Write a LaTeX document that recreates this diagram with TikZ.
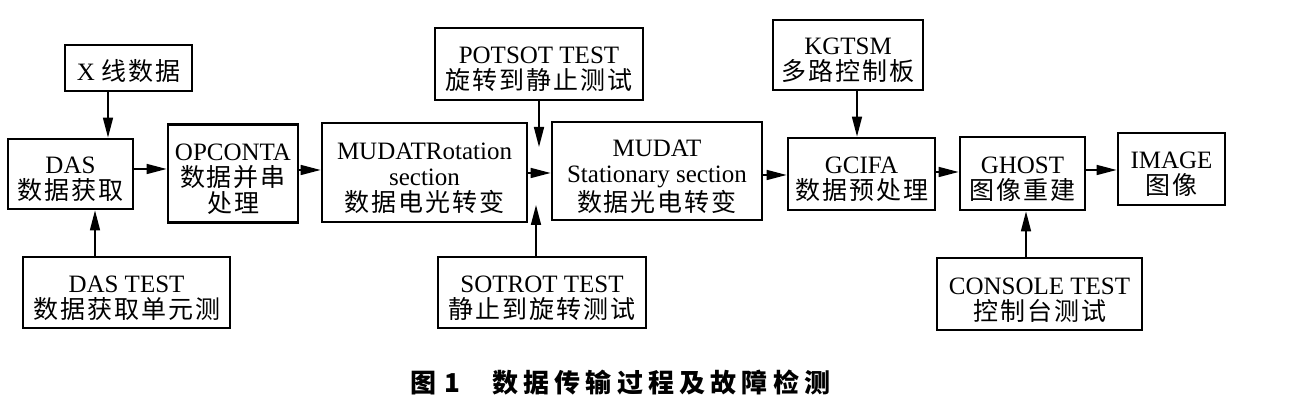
\documentclass[tikz,border=0pt]{standalone}
\usepackage{fontspec}
\setmainfont{Liberation Serif}
\newfontfamily\cjk{Noto Sans CJK SC}[LetterSpace=8]
\newfontfamily\cjkcap{Noto Sans CJK SC}
\usetikzlibrary{arrows.meta}
\newcommand\tstrut{\rule{0pt}{14pt}}
\begin{document}
\begin{tikzpicture}[x=0.5pt,y=-0.5pt,
  bx/.style={draw,line width=1.4pt,inner sep=0pt,align=center,
    font=\fontsize{12.5pt}{13pt}\selectfont},
  arr/.style={line width=0.8pt,-{Triangle[length=10pt,width=5pt]}},
  captext/.style={inner sep=0pt,anchor=west,font=\cjkcap\bfseries\fontsize{13pt}{13pt}\selectfont}]
\useasboundingbox (0,0) rectangle (1296,415);
% boxes
\node[bx,minimum width=63.5pt,minimum height=23pt] (xray) at (128.5,68) {\tstrut X {\cjk 线数据}};
\node[bx,minimum width=62.5pt,minimum height=35pt] (das) at (70.5,174) {\tstrut DAS\\{\cjk 数据获取}};
\node[bx,minimum width=65pt,minimum height=49pt] (opc) at (233,173.5) {\tstrut OPCONTA\\{\cjk 数据并串}\\{\cjk 处理}};
\node[bx,minimum width=102.5pt,minimum height=49.5pt] (mrot) at (424.5,172.5) {\tstrut MUDATRotation\\section\\{\cjk 数据电光转变}};
\node[bx,minimum width=104pt,minimum height=36pt] (potsot) at (539,64) {\tstrut POTSOT TEST\\{\cjk 旋转到静止测试}};
\node[bx,minimum width=105pt,minimum height=49pt] (mstat) at (657,171) {\tstrut MUDAT\\Stationary section\\{\cjk 数据光电转变}};
\node[bx,minimum width=75pt,minimum height=35pt] (kgtsm) at (848,55) {\tstrut KGTSM\\{\cjk 多路控制板}};
\node[bx,minimum width=73.5pt,minimum height=36pt] (gcifa) at (861.5,174) {\tstrut GCIFA\\{\cjk 数据预处理}};
\node[bx,minimum width=62.5pt,minimum height=36.5pt] (ghost) at (1022.5,173.5) {\tstrut GHOST\\{\cjk 图像重建}};
\node[bx,minimum width=53.5pt,minimum height=36pt] (image) at (1171.5,169) {\tstrut IMAGE\\{\cjk 图像}};
\node[bx,minimum width=103.5pt,minimum height=35.5pt] (dastest) at (126.5,292.5) {\tstrut DAS TEST\\{\cjk 数据获取单元测}};
\node[bx,minimum width=104pt,minimum height=35.5pt] (sotrot) at (542,292.5) {\tstrut SOTROT TEST\\{\cjk 静止到旋转测试}};
\node[bx,minimum width=102.5pt,minimum height=36pt] (console) at (1039.5,294) {\tstrut CONSOLE TEST\\{\cjk 控制台测试}};
% helper coordinates
\coordinate (vx1) at (108,0);
\coordinate (vx2) at (95,0);
\coordinate (vx3) at (857,0);
\coordinate (vx4) at (1026,0);
\coordinate (pend) at (539,147);
\coordinate (send) at (536,205);
\coordinate (h1) at (0,169);
\coordinate (h2) at (0,170);
\coordinate (h3) at (0,173);
\coordinate (h4) at (0,175);
\coordinate (h5) at (0,172);
\coordinate (h6) at (0,170);
% connectors
\draw[arr] (xray.south -| vx1) -- (das.north -| vx1);
\draw[arr] (dastest.north -| vx2) -- (das.south -| vx2);
\draw[arr] (das.east |- h1) -- (opc.west |- h1);
\draw[arr] (opc.east |- h2) -- (mrot.west |- h2);
\draw[arr] (mrot.east |- h3) -- (mstat.west |- h3);
\draw[arr] (potsot.south -| pend) -- (pend);
\draw[arr] (sotrot.north -| send) -- (send);
\draw[arr] (mstat.east |- h4) -- (gcifa.west |- h4);
\draw[arr] (kgtsm.south -| vx3) -- (gcifa.north -| vx3);
\draw[arr] (gcifa.east |- h5) -- (ghost.west |- h5);
\draw[arr] (ghost.east |- h6) -- (image.west |- h6);
\draw[arr] (console.north -| vx4) -- (ghost.south -| vx4);
% caption
\def\cs{\hspace{2.6pt}}
\node[captext] (caption) at (410,383) {图\hspace{4pt}1\hspace{16pt}数\cs 据\cs 传\cs 输\cs 过\cs 程\cs 及\cs 故\cs 障\cs 检\cs 测};
\end{tikzpicture}
\end{document}
